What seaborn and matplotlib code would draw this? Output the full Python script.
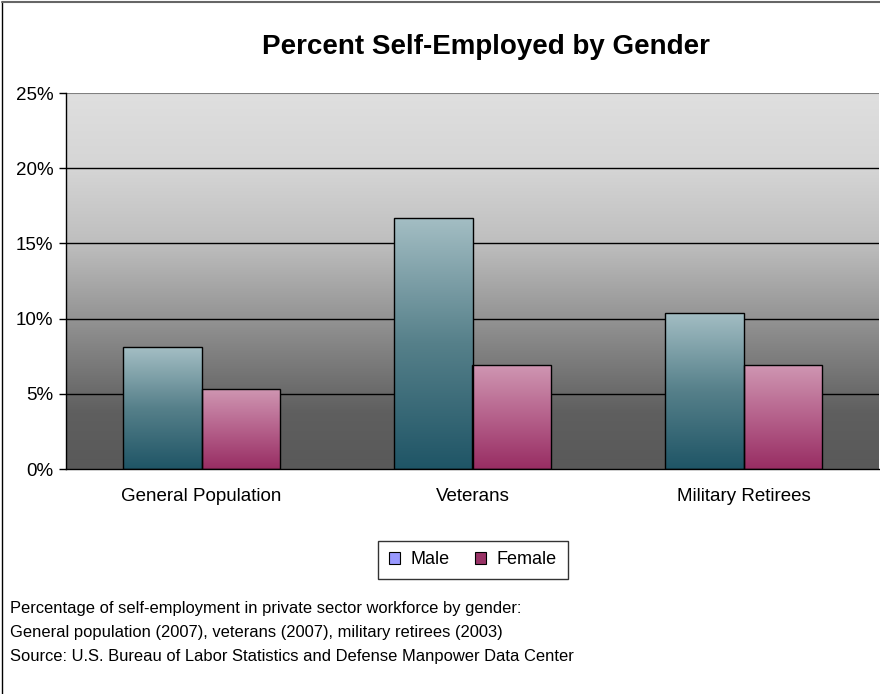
import numpy as np
import pandas as pd
import matplotlib
matplotlib.use("Agg")
import matplotlib.pyplot as plt
import seaborn as sns
from matplotlib.colors import LinearSegmentedColormap
from matplotlib.lines import Line2D
from matplotlib.patches import Patch

groups = ["General Population", "Veterans", "Military Retirees"]
genders = ["Male", "Female"]
male = [8.1, 16.7, 10.4]
female = [5.3, 6.9, 6.9]
yticks = [0, 5, 10, 15, 20, 25]
title = "Percent Self-Employed by Gender"
footnote = ["Percentage of self-employment in private sector workforce by gender:",
            "General population (2007), veterans (2007), military retirees (2003)",
            "Source: U.S. Bureau of Labor Statistics and Defense Manpower Data Center"]

df = pd.DataFrame({
    "Group": groups * 2,
    "Gender": ["Male"] * 3 + ["Female"] * 3,
    "Percent": male + female,
})

sns.set_style("white")
plt.rcParams["font.family"] = ["Liberation Sans", "DejaVu Sans"]
plt.rcParams["text.color"] = "black"
plt.rcParams["xtick.color"] = "black"
plt.rcParams["ytick.color"] = "black"
plt.rcParams["xtick.labelcolor"] = "black"
plt.rcParams["ytick.labelcolor"] = "black"

fig = plt.figure(figsize=(8.8, 6.94), dpi=100)
ax = fig.add_axes([66 / 880, 1 - 469 / 694, (879 - 66) / 880, (469 - 93) / 694])

legend_cols = {"Male": "#9999ff", "Female": "#993366"}
sns.barplot(data=df, x="Group", y="Percent", hue="Gender", order=groups,
            hue_order=genders, palette=legend_cols, width=0.576,
            edgecolor="black", linewidth=1.0, ax=ax, legend=False, zorder=3)

ax.set_xlim(-0.5, 2.5)
ax.set_ylim(0, 25)

# background gradient
bg_cmap = LinearSegmentedColormap.from_list(
    "bg", [(0.0, "#595959"), (0.15, "#5f5f5f"), (0.35, "#898989"),
           (0.6, "#bebebe"), (0.8, "#d5d5d5"), (1.0, "#dfdfdf")])
grad = np.linspace(0, 1, 256).reshape(-1, 1)
ax.imshow(grad, extent=[-0.5, 2.5, 0, 25], origin="lower", aspect="auto",
          cmap=bg_cmap, zorder=0, interpolation="bicubic")

# gridlines
for y in yticks[1:-1]:
    ax.axhline(y, color="black", lw=1.0, zorder=1)
ax.axhline(25, color="#808080", lw=1.5, zorder=1)

# bar gradients
bar_cmaps = {
    "Male": LinearSegmentedColormap.from_list("m", ["#1f5566", "#56808a", "#a4bec4"]),
    "Female": LinearSegmentedColormap.from_list("f", ["#982d63", "#b5618b", "#cf96b2"]),
}
for gender, cont in zip(genders, ax.containers):
    for bar in cont:
        x0, y0 = bar.get_x(), bar.get_y()
        w, h = bar.get_width(), bar.get_height()
        im = ax.imshow(grad, extent=[x0, x0 + w, y0, y0 + h], origin="lower",
                       aspect="auto", cmap=bar_cmaps[gender], zorder=2.5,
                       interpolation="bicubic")
        im.set_clip_path(bar)
        bar.set_facecolor("none")
ax.set_xlim(-0.5, 2.5)
ax.set_ylim(0, 25)

# spines and ticks
for s in ["top", "right"]:
    ax.spines[s].set_visible(False)
ax.spines["left"].set_color("black")
ax.spines["bottom"].set_color("black")
ax.spines["left"].set_linewidth(1.0)
ax.spines["bottom"].set_linewidth(1.0)
ax.set_yticks(yticks)
ax.set_yticklabels([f"{v}%" for v in yticks], fontsize=13.5)
ax.set_xticks(range(len(groups)))
ax.set_xticklabels(groups, fontsize=13.5)
ax.set_xticks([-0.5, 0.5, 1.5, 2.5], minor=True)
ax.tick_params(axis="x", which="major", length=0, pad=14)
ax.tick_params(axis="x", which="minor", length=5, width=1, color="black", direction="out")
ax.tick_params(axis="y", length=5, width=1, color="black", direction="out", pad=4, left=True)
ax.set_xlabel("")
ax.set_ylabel("")

fig.text(486 / 880, 1 - 47 / 694, title, ha="center", va="center",
         fontsize=20, fontweight="bold")

handles = [Patch(facecolor=legend_cols[g], edgecolor="black", linewidth=0.8) for g in genders]
leg = fig.legend(handles, genders, loc="center", bbox_to_anchor=(473 / 880, 1 - 560 / 694),
                 ncol=2, fontsize=13, frameon=True, fancybox=False, handlelength=0.6,
                 handleheight=0.6, handletextpad=0.6, columnspacing=1.4,
                 borderpad=0.6)
leg.get_frame().set_edgecolor("black")
leg.get_frame().set_linewidth(1.0)

for i, line in enumerate(footnote):
    fig.text(10 / 880, 1 - (608 + 24 * i) / 694, line, ha="left", va="center", fontsize=11.9)

# figure border
fig.add_artist(Line2D([1.5 / 880, 1.5 / 880], [0, 1 - 1.5 / 694], color="black", lw=1.0))
fig.add_artist(Line2D([1.5 / 880, 1], [1 - 1.5 / 694, 1 - 1.5 / 694], color="#666666", lw=1.5))

fig.savefig("out.png", dpi=100)
